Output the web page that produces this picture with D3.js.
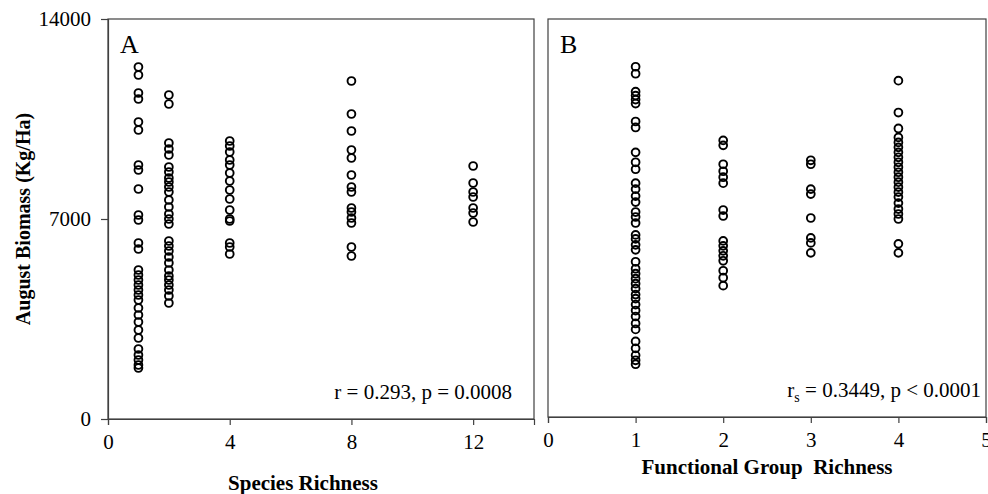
<!DOCTYPE html>
<html>
<head>
<meta charset="utf-8">
<script src="https://cdn.jsdelivr.net/npm/d3@7"></script>
<style>
  body { margin: 0; background: #fff; }
  svg { display: block; }
  text { font-family: "Liberation Serif", "Times New Roman", serif; fill: #000; white-space: pre; }
</style>
</head>
<body>
<svg id="svg" width="988" height="494"></svg>
<script>
// panel A : species richness
var speciesX = [1, 2, 4, 8, 12]
var speciesY = [
  [12320, 12040, 11410, 11200, 10395, 10115, 8890, 8715, 8050, 7140, 6965, 6160, 5950, 5215, 5040, 4865, 4690, 4515, 4340, 4165, 3885, 3640, 3395, 3115, 2835, 2450, 2240, 2065, 1890, 1785],
  [11340, 11025, 9660, 9450, 9240, 8820, 8645, 8435, 8295, 8120, 7945, 7665, 7420, 7175, 7000, 6825, 6230, 6055, 5880, 5670, 5460, 5215, 5005, 4865, 4690, 4515, 4305, 4060],
  [9730, 9555, 9345, 9065, 8890, 8610, 8330, 8015, 7700, 7315, 7000, 6930, 6160, 6020, 5775],
  [11830, 10675, 10080, 9415, 9135, 8540, 8120, 7945, 7385, 7245, 7035, 6860, 6020, 5705],
  [8855, 8260, 7945, 7770, 7385, 7210, 6895]
]
// panel B : functional group richness
var groupX = [1, 2, 3, 4]
var groupY = [
  [12320, 12075, 11445, 11305, 11165, 11025, 10395, 10185, 9310, 8960, 8715, 8225, 8015, 7770, 7560, 7210, 7035, 6825, 6405, 6265, 6055, 5880, 5460, 5215, 5040, 4865, 4690, 4515, 4305, 4165, 3955, 3745, 3535, 3290, 3080, 2660, 2415, 2170, 1995, 1855],
  [9730, 9555, 8890, 8645, 8435, 8225, 7280, 7070, 6195, 6020, 5845, 5670, 5495, 5145, 4900, 4620],
  [9030, 8890, 8015, 7840, 7000, 6300, 6125, 5775],
  [11830, 10710, 10150, 9835, 9660, 9485, 9310, 9135, 8960, 8785, 8610, 8435, 8260, 8085, 7910, 7735, 7525, 7315, 7140, 6965, 6090, 5775]
]
var yTicks = [0, 7000, 14000]
var xTicksA = [0, 4, 8, 12]
var xTicksB = [0, 1, 2, 3, 4, 5]

const svg = d3.select("#svg")

function flatten(xs, ys){
  var out = []
  xs.forEach((x, i) => ys[i].forEach(v => out.push({x: x, y: v})))
  return out
}

function panel(opt){
  var x = d3.scaleLinear().domain(opt.xDomain).range([opt.left, opt.right])
  var y = d3.scaleLinear().domain([0, 14000]).range([opt.bottom, opt.top])
  var g = svg.append("g")

  // frame
  g.append("rect")
    .attr("x", opt.left).attr("y", opt.top)
    .attr("width", opt.right - opt.left).attr("height", opt.bottom - opt.top)
    .attr("fill", "none").attr("stroke", "#404040").attr("stroke-width", 1.2)

  var xa = g.append("g").attr("transform", "translate(0," + opt.bottom + ")")
    .call(d3.axisBottom(x).tickValues(opt.xTicks).tickSize(6).tickPadding(9).tickFormat(d3.format("d")))
  xa.select(".domain").attr("stroke", "#404040").attr("stroke-width", 1.2)
  xa.selectAll("line").attr("stroke", "#404040").attr("stroke-width", 1.2)
  xa.selectAll("text").style("font-size", "21px")

  if (opt.yLabels) {
    var ya = g.append("g").attr("transform", "translate(" + opt.left + ",0)")
      .call(d3.axisLeft(y).tickValues(yTicks).tickSize(7).tickPadding(10).tickFormat(d3.format("d")))
    ya.select(".domain").attr("stroke", "#404040").attr("stroke-width", 1.2)
    ya.selectAll("line").attr("stroke", "#404040").attr("stroke-width", 1.2)
    ya.selectAll("text").style("font-size", "21px")
  }

  g.selectAll(".pt")
    .data(opt.points)
    .enter().append("circle")
    .attr("class", "pt")
    .attr("cx", d => x(d.x))
    .attr("cy", d => y(d.y))
    .attr("r", 3.9)
    .attr("fill", "none")
    .attr("stroke", "#000")
    .attr("stroke-width", 1.9)

  g.append("text").attr("x", opt.left + 12).attr("y", opt.top + 34)
    .style("font-size", "26px").text(opt.letter)

  g.append("text").attr("x", opt.titleX).attr("y", opt.titleY)
    .attr("text-anchor", "middle").style("font-size", "21px").style("font-weight", "bold")
    .text(opt.title)
  return g
}

panel({left: 108, right: 534, top: 19, bottom: 419, xDomain: [0, 14], xTicks: xTicksA,
       points: flatten(speciesX, speciesY), letter: "A", yLabels: true,
       title: "Species Richness", titleX: 303, titleY: 490})

panel({left: 548, right: 986, top: 19, bottom: 417, xDomain: [0, 5], xTicks: xTicksB,
       points: flatten(groupX, groupY), letter: "B", yLabels: false,
       title: "Functional Group  Richness", titleX: 767, titleY: 474})

// stats
svg.append("text").attr("x", 512).attr("y", 399).attr("text-anchor", "end")
  .style("font-size", "21px").text("r = 0.293, p = 0.0008")

var st = svg.append("text").attr("x", 981).attr("y", 397).attr("text-anchor", "end")
  .style("font-size", "21px")
st.append("tspan").text("r")
st.append("tspan").attr("dy", 5).style("font-size", "14px").text("s")
st.append("tspan").attr("dy", -5).text(" = 0.3449, p < 0.0001")

// y title
svg.append("text")
  .attr("transform", "translate(30,219) rotate(-90)")
  .attr("text-anchor", "middle")
  .style("font-size", "20px").style("font-weight", "bold")
  .text("August Biomass (Kg/Ha)")
</script>
</body>
</html>
